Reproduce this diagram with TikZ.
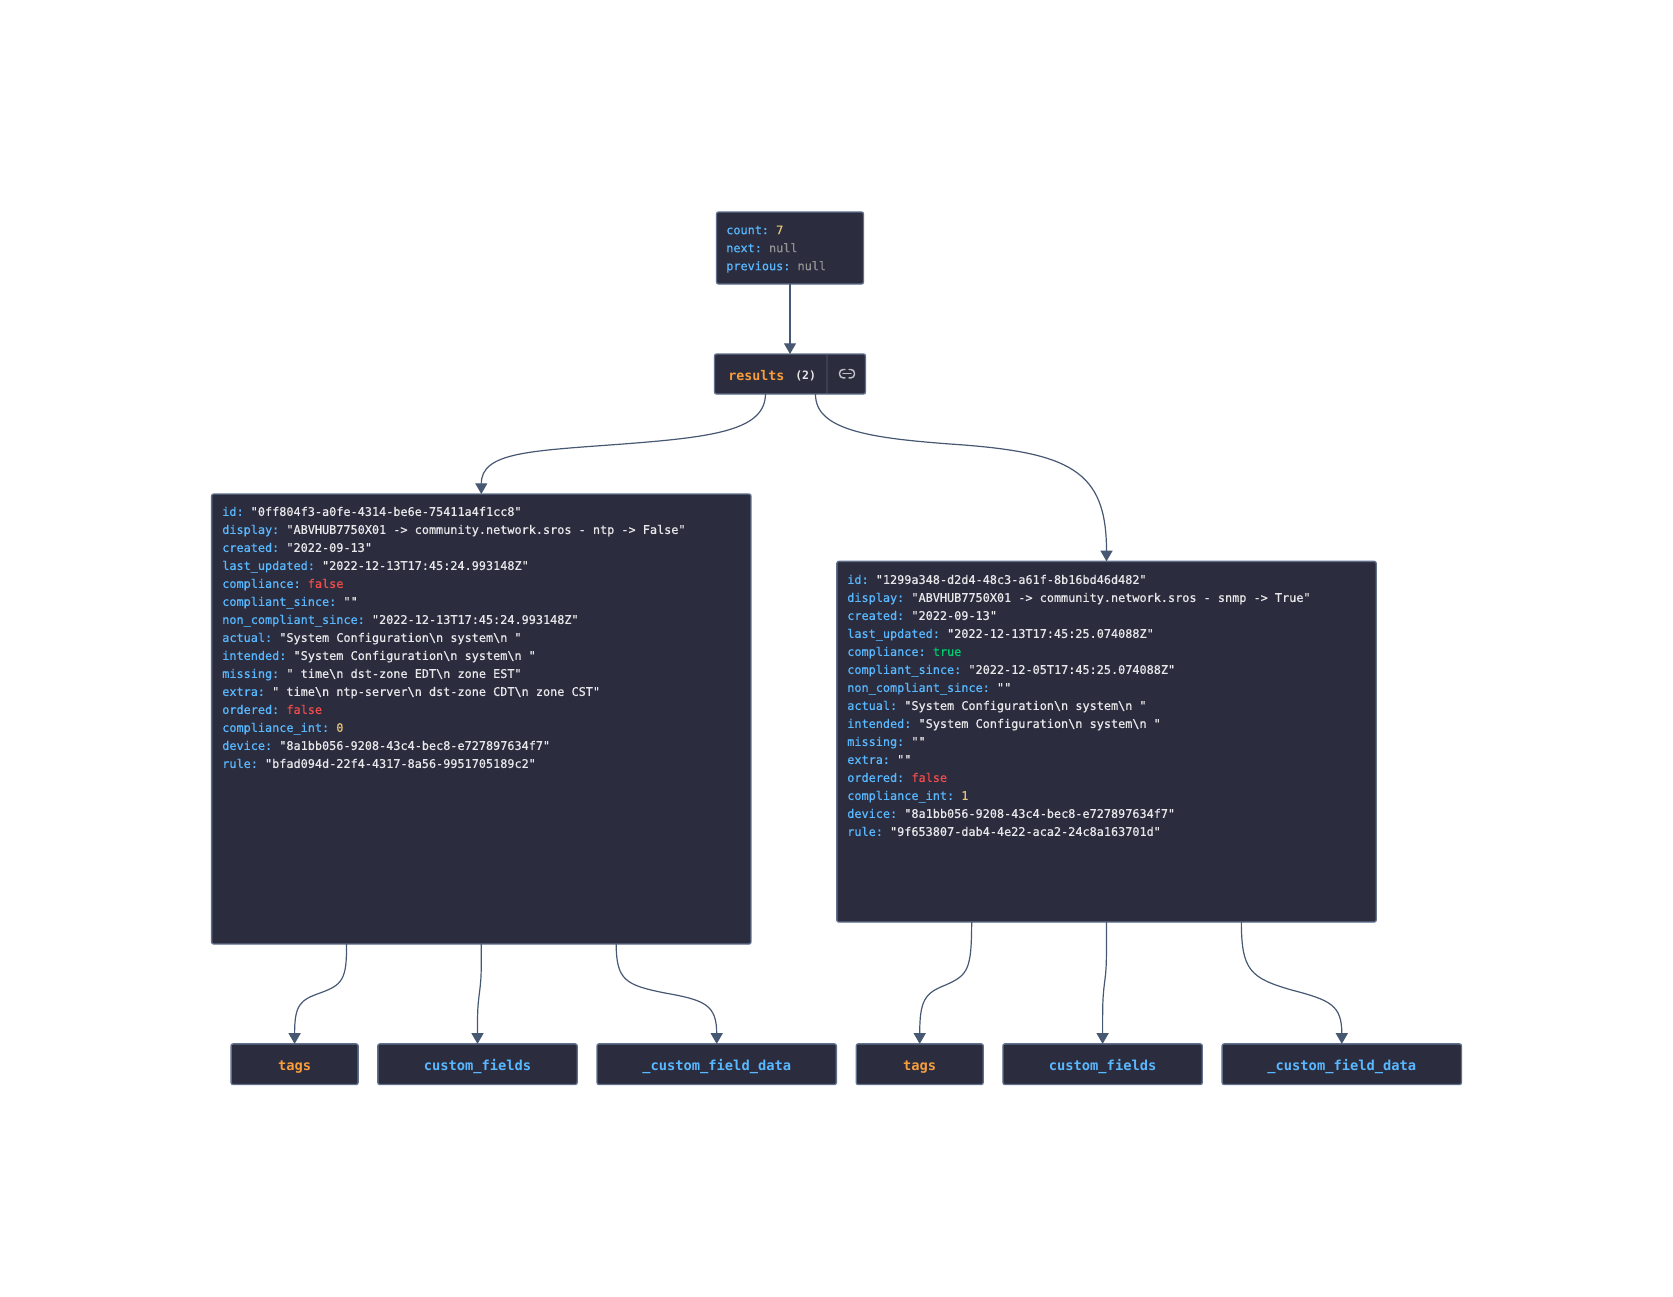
\documentclass[tikz,border=0pt]{standalone}
\usepackage{fontspec}
\usetikzlibrary{arrows.meta,calc}
\newfontfamily\dmono[FakeBold=0.6]{DejaVu Sans Mono}
\newfontfamily\dmonob{DejaVu Sans Mono}
\frenchspacing
\definecolor{nodebg}{HTML}{2B2C3E}
\definecolor{nodeline}{HTML}{5F6F8C}
\definecolor{edgeline}{HTML}{475872}
\definecolor{keyblue}{HTML}{59B8FF}
\definecolor{strwhite}{HTML}{E8E8EA}
\definecolor{redval}{HTML}{F34C4C}
\definecolor{greenval}{HTML}{00CE6F}
\definecolor{numval}{HTML}{E8C479}
\definecolor{nullval}{HTML}{939393}
\definecolor{orangeval}{HTML}{F89D3C}
\definecolor{divline}{HTML}{3B3E52}
\definecolor{iconline}{HTML}{BFC0C6}
\newcommand{\keyt}[1]{\textcolor{keyblue}{#1:}}
\newcommand{\strv}[1]{\textcolor{strwhite}{"#1"}}
\newcommand{\redv}[1]{\textcolor{redval}{#1}}
\newcommand{\grnv}[1]{\textcolor{greenval}{#1}}
\newcommand{\numv}[1]{\textcolor{numval}{#1}}
\newcommand{\nulv}[1]{\textcolor{nullval}{#1}}
\newcommand{\nl}{\textbackslash n}
\tikzset{
  boxnode/.style={draw=nodeline,fill=nodebg,line width=1pt,rounded corners=1.5pt,inner sep=0pt,outer sep=0pt},
  rowtext/.style={anchor=north west,inner sep=0pt,align=left,font=\dmono\fontsize{8.88}{13.5}\selectfont},
  smalllabel/.style={boxnode,font=\dmonob\bfseries\fontsize{10.3}{12}\selectfont,text height=12pt,text depth=2pt},
  edgecurve/.style={draw=edgeline,line width=0.9pt,-{Triangle[length=8pt,width=9pt]}},
}
\begin{document}
\begin{tikzpicture}[x=0.75pt,y=-0.75pt]
\useasboundingbox (0,0) rectangle (1673,1296);
% boxes
\node[boxnode,minimum width=110.25pt,minimum height=54pt] (head) at (790,248) {};
\node[rowtext] (headtxt) at (726,225.3) {\keyt{count} \numv{7}\\\keyt{next} \nulv{null}\\\keyt{previous} \nulv{null}};
\node[boxnode,minimum width=113.25pt,minimum height=30pt] (res) at (790,374) {};
\draw[divline,line width=1pt] (827,355) -- (827,393);
\node[anchor=base west,inner sep=0pt,font=\dmonob\bfseries\fontsize{10}{12}\selectfont,text=orangeval] (restxt) at (728,380) {results};
\node[anchor=base west,inner sep=0pt,font=\dmonob\bfseries\fontsize{8.6}{12}\selectfont,text=strwhite] (rescount) at (795,379) {(2)};
\draw[iconline,line width=1.1pt,line cap=round,rounded corners=2.8pt]
  (845,369.5) -- (839.5,369.5) -- (839.5,377.9) -- (845,377.9);
\draw[iconline,line width=1.1pt,line cap=round,rounded corners=2.8pt]
  (849,369.5) -- (854.5,369.5) -- (854.5,377.9) -- (849,377.9);
\draw[iconline,line width=1.1pt,line cap=round] (843,373.7) -- (851,373.7);
\node[boxnode,minimum width=404.5pt,minimum height=337.5pt] (left) at (481.3,719) {};
\node[boxnode,minimum width=404.5pt,minimum height=270.5pt] (right) at (1106.5,741.7) {};
\node[rowtext] (lefttxt) at (222,506.6) {%
\keyt{id} \strv{0ff804f3-a0fe-4314-be6e-75411a4f1cc8}\\
\keyt{display} \strv{ABVHUB7750X01 -> community.network.sros - ntp -> False}\\
\keyt{created} \strv{2022-09-13}\\
\keyt{last\_updated} \strv{2022-12-13T17:45:24.993148Z}\\
\keyt{compliance} \redv{false}\\
\keyt{compliant\_since} \strv{}\\
\keyt{non\_compliant\_since} \strv{2022-12-13T17:45:24.993148Z}\\
\keyt{actual} \strv{System Configuration\nl{} system\nl{} }\\
\keyt{intended} \strv{System Configuration\nl{} system\nl{} }\\
\keyt{missing} \strv{ time\nl{} dst-zone EDT\nl{} zone EST}\\
\keyt{extra} \strv{ time\nl{} ntp-server\nl{} dst-zone CDT\nl{} zone CST}\\
\keyt{ordered} \redv{false}\\
\keyt{compliance\_int} \numv{0}\\
\keyt{device} \strv{8a1bb056-9208-43c4-bec8-e727897634f7}\\
\keyt{rule} \strv{bfad094d-22f4-4317-8a56-9951705189c2}};
\node[rowtext] (righttxt) at (847,574.6) {%
\keyt{id} \strv{1299a348-d2d4-48c3-a61f-8b16bd46d482}\\
\keyt{display} \strv{ABVHUB7750X01 -> community.network.sros - snmp -> True}\\
\keyt{created} \strv{2022-09-13}\\
\keyt{last\_updated} \strv{2022-12-13T17:45:25.074088Z}\\
\keyt{compliance} \grnv{true}\\
\keyt{compliant\_since} \strv{2022-12-05T17:45:25.074088Z}\\
\keyt{non\_compliant\_since} \strv{}\\
\keyt{actual} \strv{System Configuration\nl{} system\nl{} }\\
\keyt{intended} \strv{System Configuration\nl{} system\nl{} }\\
\keyt{missing} \strv{}\\
\keyt{extra} \strv{}\\
\keyt{ordered} \redv{false}\\
\keyt{compliance\_int} \numv{1}\\
\keyt{device} \strv{8a1bb056-9208-43c4-bec8-e727897634f7}\\
\keyt{rule} \strv{9f653807-dab4-4e22-aca2-24c8a163701d}};
% small nodes
\node[smalllabel,minimum width=95.25pt,minimum height=30.5pt,text=orangeval] (tagsl) at (294.6,1064.2) {tags};
\node[smalllabel,minimum width=149.5pt,minimum height=30.5pt,text=keyblue] (cfl) at (477.5,1064.2) {custom\_fields};
\node[smalllabel,minimum width=179.5pt,minimum height=30.5pt,text=keyblue] (cfdl) at (716.7,1064.2) {\_custom\_field\_data};
\node[smalllabel,minimum width=95.25pt,minimum height=30.5pt,text=orangeval] (tagsr) at (919.7,1064.2) {tags};
\node[smalllabel,minimum width=149.5pt,minimum height=30.5pt,text=keyblue] (cfr) at (1102.6,1064.2) {custom\_fields};
\node[smalllabel,minimum width=179.5pt,minimum height=30.5pt,text=keyblue] (cfdr) at (1341.8,1064.2) {\_custom\_field\_data};
% ports
\coordinate (resa) at ($(res.south west)+(51,0)$);
\coordinate (resb) at ($(res.south west)+(101,0)$);
\coordinate (la) at ($(left.south west)!.25!(left.south east)$);
\coordinate (lb) at ($(left.south west)!.5!(left.south east)$);
\coordinate (lc) at ($(left.south west)!.75!(left.south east)$);
\coordinate (ra) at ($(right.south west)!.25!(right.south east)$);
\coordinate (rb) at ($(right.south west)!.5!(right.south east)$);
\coordinate (rc) at ($(right.south west)!.75!(right.south east)$);
% edges
\draw[edgecurve] (head.south) -- (res.north);
\draw[edgecurve] (resa) .. controls (765,430) and (715,437) .. (623,444) .. controls (530,451) and (481.3,452) .. (left.north);
\draw[edgecurve] (resb) .. controls (815,430) and (870,438) .. (950,444) .. controls (1070,452) and (1106.5,470) .. (right.north);
\draw[edgecurve] (la) .. controls (347,980) and (342,985) .. (320,993) .. controls (300,1000) and (294.6,1005) .. (tagsl.north);
\draw[edgecurve] (lb) .. controls (481.3,975) and (481.3,978) .. (479.4,993) .. controls (477.5,1008) and (477.5,1012) .. (cfl.north);
\draw[edgecurve] (lc) .. controls (616.5,980) and (625,985) .. (665,993) .. controls (705,1000) and (716.7,1005) .. (cfdl.north);
\draw[edgecurve] (ra) .. controls (971.5,970) and (968,975) .. (945.6,985) .. controls (925,993) and (919.7,1000) .. (tagsr.north);
\draw[edgecurve] (rb) .. controls (1106.5,965) and (1106.5,968) .. (1104.5,983) .. controls (1102.6,998) and (1102.6,1005) .. (cfr.north);
\draw[edgecurve] (rc) .. controls (1241.5,970) and (1250,978) .. (1291.6,990) .. controls (1330,1000) and (1341.8,1005) .. (cfdr.north);
\end{tikzpicture}
\end{document}
